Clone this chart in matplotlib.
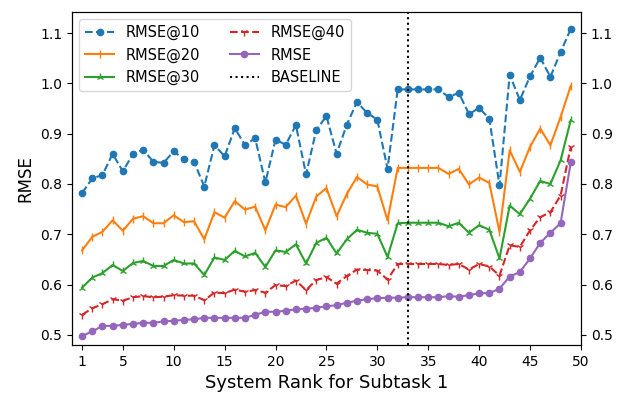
import matplotlib
matplotlib.use("Agg")
import matplotlib.pyplot as plt
import numpy as np

ranks = np.arange(1, 50)

rmse10 = [0.782, 0.811, 0.818, 0.860, 0.825, 0.860, 0.868, 0.844, 0.842, 0.865,
          0.849, 0.844, 0.795, 0.877, 0.855, 0.911, 0.877, 0.891, 0.803, 0.888,
          0.878, 0.917, 0.819, 0.907, 0.935, 0.860, 0.918, 0.963, 0.941, 0.928,
          0.830, 0.988, 0.988, 0.988, 0.988, 0.988, 0.973, 0.981, 0.939, 0.951,
          0.930, 0.797, 1.017, 0.967, 1.014, 1.051, 1.013, 1.062, 1.108]
rmse20 = [0.668, 0.695, 0.705, 0.728, 0.707, 0.731, 0.736, 0.722, 0.722, 0.738,
          0.724, 0.726, 0.690, 0.744, 0.733, 0.766, 0.749, 0.755, 0.708, 0.759,
          0.754, 0.777, 0.721, 0.775, 0.792, 0.736, 0.780, 0.814, 0.799, 0.795,
          0.728, 0.832, 0.832, 0.832, 0.832, 0.832, 0.820, 0.830, 0.799, 0.813,
          0.802, 0.705, 0.867, 0.824, 0.874, 0.910, 0.877, 0.933, 0.995]
rmse30 = [0.594, 0.614, 0.623, 0.639, 0.627, 0.643, 0.647, 0.637, 0.637, 0.649,
          0.642, 0.642, 0.619, 0.654, 0.649, 0.667, 0.656, 0.663, 0.635, 0.668,
          0.665, 0.680, 0.642, 0.683, 0.693, 0.662, 0.690, 0.709, 0.703, 0.701,
          0.655, 0.722, 0.723, 0.723, 0.723, 0.723, 0.716, 0.723, 0.703, 0.718,
          0.709, 0.652, 0.757, 0.740, 0.771, 0.806, 0.800, 0.847, 0.927]
rmse40 = [0.540, 0.553, 0.561, 0.571, 0.568, 0.575, 0.577, 0.575, 0.576, 0.579,
          0.578, 0.578, 0.569, 0.584, 0.583, 0.590, 0.586, 0.589, 0.584, 0.599,
          0.597, 0.608, 0.589, 0.609, 0.615, 0.602, 0.617, 0.630, 0.629, 0.628,
          0.610, 0.641, 0.641, 0.641, 0.641, 0.641, 0.639, 0.641, 0.630, 0.641,
          0.636, 0.618, 0.678, 0.675, 0.708, 0.734, 0.744, 0.777, 0.874]
rmse = [0.498, 0.507, 0.518, 0.518, 0.520, 0.522, 0.524, 0.524, 0.527, 0.528,
        0.530, 0.531, 0.534, 0.534, 0.534, 0.534, 0.534, 0.540, 0.546, 0.546,
        0.548, 0.551, 0.552, 0.554, 0.557, 0.559, 0.564, 0.568, 0.571, 0.573,
        0.574, 0.574, 0.575, 0.575, 0.575, 0.575, 0.577, 0.576, 0.579, 0.583,
        0.583, 0.592, 0.616, 0.625, 0.652, 0.683, 0.703, 0.722, 0.843]
baseline_rank = 33

xticks = [1, 5, 10, 15, 20, 25, 30, 35, 40, 45, 50]
yticks = [0.5, 0.6, 0.7, 0.8, 0.9, 1.0, 1.1]

fig, ax = plt.subplots(figsize=(6.2, 3.97), dpi=100)
fig.subplots_adjust(left=0.116, right=0.937, top=0.970, bottom=0.131)

ax.plot(ranks, rmse10, '--', marker='.', ms=9, color='tab:blue', label='RMSE@10')
ax.plot(ranks, rmse20, '-', marker='|', color='tab:orange', label='RMSE@20')
ax.plot(ranks, rmse30, '-', marker='2', color='tab:green', label='RMSE@30')
ax.plot(ranks, rmse40, '--', marker='1', color='tab:red', label='RMSE@40')
ax.plot(ranks, rmse, '-', marker='.', ms=9, color='tab:purple', label='RMSE')
ax.axvline(baseline_rank, color='k', linestyle=':', label='BASELINE')

ax.set_xlim(0, 50)
ax.set_ylim(0.48, 1.142)
ax.set_xticks(xticks)
ax.set_yticks(yticks)
ax.set_xlabel("System Rank for Subtask 1", fontsize=13)
ax.set_ylabel("RMSE", fontsize=12)
ax.legend(ncol=2, loc='upper left', fontsize=10.5)

ax2 = ax.twinx()
ax2.set_ylim(ax.get_ylim())
ax2.set_yticks(yticks)
ax2.set_yticklabels([f"{v:.1f}" for v in yticks])

fig.savefig("out.png")
